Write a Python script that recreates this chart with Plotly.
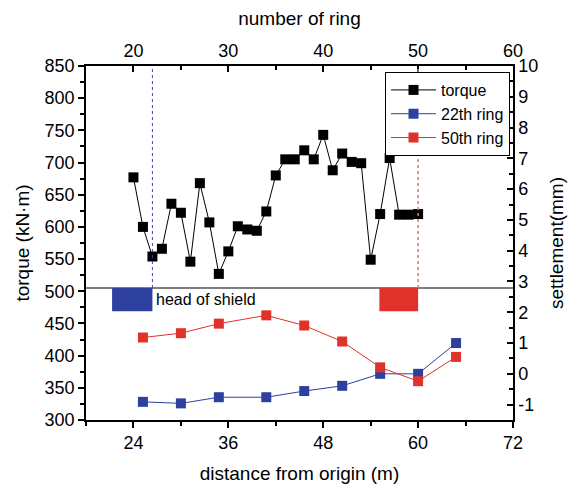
import plotly.graph_objects as go

# ---- data ----
torque_dist = [24.0, 25.2, 26.4, 27.6, 28.8, 30.0, 31.2, 32.4, 33.6, 34.8, 36.0,
               37.2, 38.4, 39.6, 40.8, 42.0, 43.2, 44.4, 45.6, 46.8, 48.0, 49.2,
               50.4, 51.6, 52.8, 54.0, 55.2, 56.4, 57.6, 58.8, 60.0]
torque = [677, 600, 554, 566, 636, 622, 546, 668, 607, 527, 562,
          601, 596, 594, 624, 680, 705, 705, 719, 705, 743, 688,
          714, 701, 699, 549, 620, 707, 619, 619, 620]

settle_dist = [25.2, 30.0, 34.8, 40.8, 45.6, 50.4, 55.2, 60.0, 64.8]
ring22 = [-0.91, -0.96, -0.76, -0.76, -0.56, -0.39, 0.0, 0.0, 1.0]
ring50 = [1.18, 1.32, 1.63, 1.90, 1.57, 1.05, 0.21, -0.24, 0.55]

dist_ticks = [24, 36, 48, 60, 72]
ring_ticks = [20, 30, 40, 50, 60]
torque_ticks = [300, 350, 400, 450, 500, 550, 600, 650, 700, 750, 800, 850]
settle_ticks = [-1, 0, 1, 2, 3, 4, 5, 6, 7, 8, 9, 10]
settle_labels = ["-1", "0", "1", "2", "3", "4", "5", "6", "7", "8", "9", "10"]

shield_level = 505
shield_bottom = 469
ring22_pos = 26.4
ring50_pos = 60.0
blue_box = [21.3, 26.4]
red_box = [55.1, 60.0]

BLUE = "#2E409E"
RED = "#E0322A"
FONT = "Liberation Sans, Arial, sans-serif"

fig = go.Figure()
fig.add_trace(go.Scatter(x=torque_dist, y=torque, mode="lines+markers", name="torque",
                         line=dict(color="black", width=1),
                         marker=dict(symbol="square", size=10, color="black")))
fig.add_trace(go.Scatter(x=settle_dist, y=ring22, mode="lines+markers", name="22th ring",
                         yaxis="y2", line=dict(color=BLUE, width=1),
                         marker=dict(symbol="square", size=10, color=BLUE)))
fig.add_trace(go.Scatter(x=settle_dist, y=ring50, mode="lines+markers", name="50th ring",
                         yaxis="y2", line=dict(color=RED, width=1),
                         marker=dict(symbol="square", size=10, color=RED)))
# invisible trace to carry the top axis
fig.add_trace(go.Scatter(x=[20, 60], y=[torque_ticks[0], torque_ticks[0]], xaxis="x2",
                         mode="markers", marker=dict(opacity=0), showlegend=False,
                         hoverinfo="skip"))

# shapes
fig.add_shape(type="line", xref="paper", x0=0, x1=1, yref="y", y0=shield_level, y1=shield_level,
              line=dict(color="#555555", width=1.5))
fig.add_shape(type="line", xref="x", x0=ring22_pos, x1=ring22_pos, yref="y",
              y0=shield_level, y1=850, line=dict(color="#3344CC", width=1, dash="3px,3px"))
fig.add_shape(type="line", xref="x", x0=ring50_pos, x1=ring50_pos, yref="y",
              y0=shield_level, y1=850, line=dict(color="#E8736B", width=1.5, dash="dot"))
fig.add_shape(type="rect", xref="x", yref="y", x0=blue_box[0], x1=blue_box[1],
              y0=shield_bottom, y1=shield_level, fillcolor=BLUE, line=dict(width=0))
fig.add_shape(type="rect", xref="x", yref="y", x0=red_box[0], x1=red_box[1],
              y0=shield_bottom, y1=shield_level, fillcolor=RED, line=dict(width=0))
fig.add_annotation(x=blue_box[1] + 0.2, y=(shield_level + shield_bottom) / 2, xref="x", yref="y",
                   text="head of shield", showarrow=False, xanchor="left", yanchor="middle",
                   font=dict(size=16, color="black", family=FONT))

axis_common = dict(showline=True, linecolor="black", linewidth=1.5, showgrid=False,
                   zeroline=False, tickcolor="black", tickfont=dict(size=18, color="black"),
                   ticklen=6, tickwidth=1.5)

fig.update_layout(
    width=576, height=493,
    margin=dict(l=86, r=63, t=66, b=71),
    paper_bgcolor="white", plot_bgcolor="white",
    font=dict(family=FONT, color="black"),
    showlegend=True,
    legend=dict(x=0.993, y=0.983, xanchor="right", yanchor="top",
                bordercolor="black", borderwidth=1, bgcolor="white",
                font=dict(size=16), tracegroupgap=0, itemwidth=45),
    xaxis=dict(range=[18, 72], tickvals=dist_ticks, ticks="outside",
               minor=dict(dtick=6, tick0=0, ticklen=4, ticks="outside", tickcolor="black"),
               title=dict(text="distance from origin (m)", font=dict(size=19), standoff=14),
               **axis_common),
    xaxis2=dict(range=[15, 60], tickvals=ring_ticks, overlaying="x", side="top", ticks="inside",
                minor=dict(dtick=5, tick0=0, ticklen=4, ticks="inside", tickcolor="black"),
                title=dict(text="number of ring", font=dict(size=19), standoff=10),
                **axis_common),
    yaxis=dict(range=[300, 850], tickvals=torque_ticks, ticks="outside",
               minor=dict(dtick=25, tick0=0, ticklen=4, ticks="outside", tickcolor="black"),
               title=dict(text="torque (kN·m)", font=dict(size=19), standoff=10),
               **axis_common),
    yaxis2=dict(range=[-1.5, 10], tickvals=settle_ticks, ticktext=settle_labels,
                overlaying="y", side="right", ticks="inside",
                minor=dict(dtick=0.5, tick0=0, ticklen=4, ticks="inside", tickcolor="black"),
                title=dict(text="settlement(mm)", font=dict(size=19), standoff=12),
                **axis_common),
)

fig.write_html("out.html")
